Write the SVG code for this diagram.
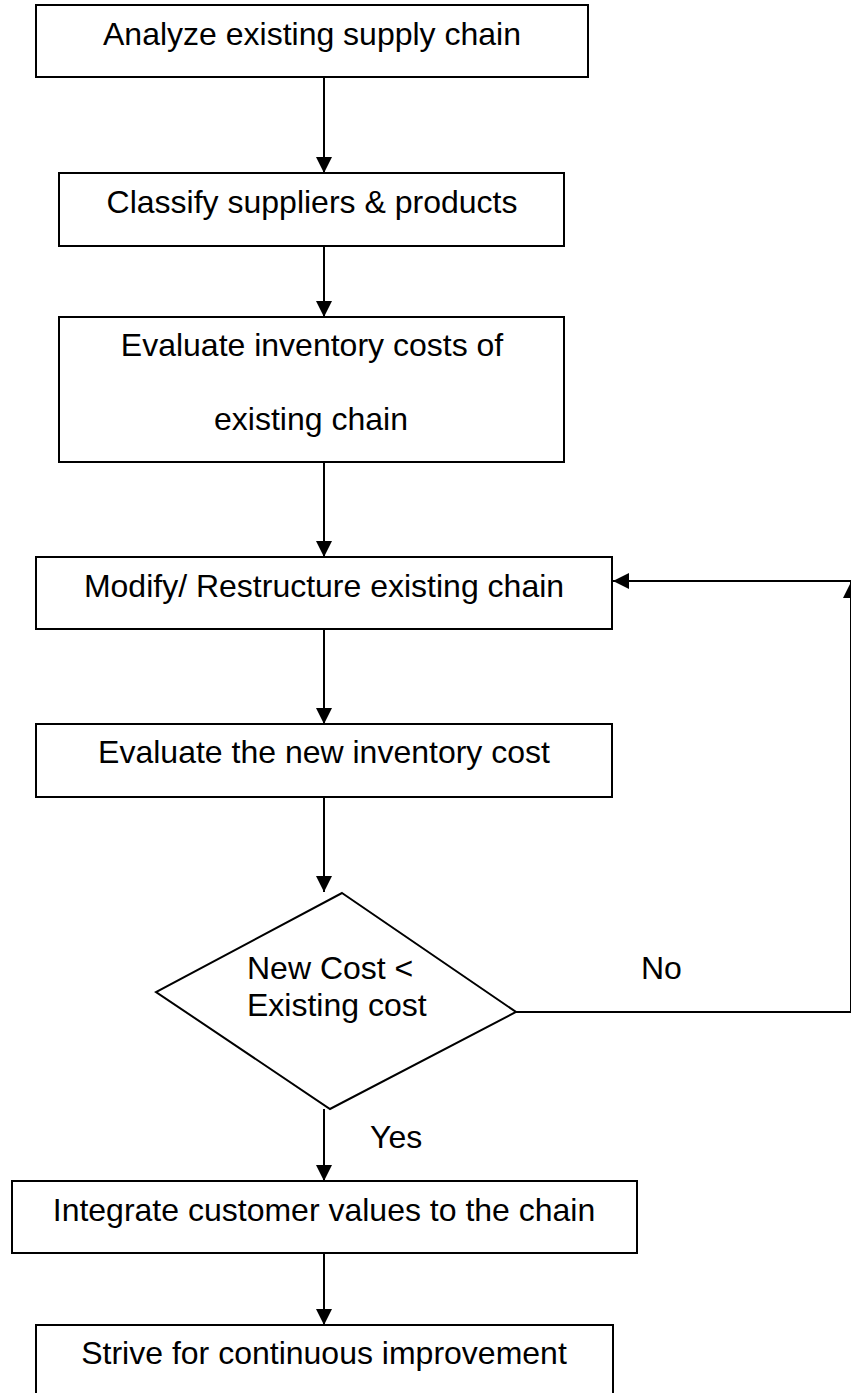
<svg xmlns="http://www.w3.org/2000/svg" width="851" height="1393" viewBox="0 0 851 1393">
<style>
  .box { fill: #ffffff; stroke: #000000; stroke-width: 2; }
  .lbl { font-family: "Liberation Sans", Arial, sans-serif; font-size: 32px; fill: #000000; }
  .mid { text-anchor: middle; }
  .conn { fill: none; stroke: #000000; stroke-width: 2; }
</style>
<defs>
  <marker id="arrow" viewBox="0 0 16 16" refX="16" refY="8" markerWidth="16" markerHeight="16" markerUnits="userSpaceOnUse" orient="auto">
    <path d="M0,0 L16,8 L0,16 Z" fill="#000000"/>
  </marker>
</defs>
<rect width="851" height="1393" fill="#ffffff"/>

<g id="connectors">
  <line class="conn" x1="324" y1="77" x2="324" y2="173" marker-end="url(#arrow)"/>
  <line class="conn" x1="324" y1="246" x2="324" y2="317" marker-end="url(#arrow)"/>
  <line class="conn" x1="324" y1="462" x2="324" y2="557" marker-end="url(#arrow)"/>
  <line class="conn" x1="324" y1="629" x2="324" y2="724" marker-end="url(#arrow)"/>
  <line class="conn" x1="324" y1="797" x2="324" y2="892" marker-end="url(#arrow)"/>
  <line class="conn" x1="324" y1="1109" x2="324" y2="1181" marker-end="url(#arrow)"/>
  <line class="conn" x1="324" y1="1253" x2="324" y2="1325" marker-end="url(#arrow)"/>
  <polyline class="conn" points="516,1012 851,1012 851,582" marker-end="url(#arrow)"/>
  <line class="conn" x1="851" y1="581" x2="613" y2="581" marker-end="url(#arrow)"/>
  <text class="lbl" x="641" y="979">No</text>
  <text class="lbl" x="370" y="1148">Yes</text>
</g>

<g id="n1">
  <rect class="box" x="36" y="5" width="552" height="72"/>
  <text class="lbl mid" x="312" y="45">Analyze existing supply chain</text>
</g>
<g id="n2">
  <rect class="box" x="59" y="173" width="505" height="73"/>
  <text class="lbl mid" x="312" y="213">Classify suppliers &amp; products</text>
</g>
<g id="n3">
  <rect class="box" x="59" y="317" width="505" height="145"/>
  <text class="lbl mid" x="312" y="356">Evaluate inventory costs of</text>
  <text class="lbl mid" x="311" y="430">existing chain</text>
</g>
<g id="n4">
  <rect class="box" x="36" y="557" width="576" height="72"/>
  <text class="lbl mid" x="324" y="597">Modify/ Restructure existing chain</text>
</g>
<g id="n5">
  <rect class="box" x="36" y="724" width="576" height="73"/>
  <text class="lbl mid" x="324" y="763">Evaluate the new inventory cost</text>
</g>
<g id="n6">
  <polygon class="box" points="342,893 516,1012 330,1109 156,992"/>
  <text class="lbl" x="247" y="979">New Cost &lt;</text>
  <text class="lbl" x="247" y="1016">Existing cost</text>
</g>
<g id="n7">
  <rect class="box" x="12" y="1181" width="625" height="72"/>
  <text class="lbl mid" x="324" y="1221">Integrate customer values to the chain</text>
</g>
<g id="n8">
  <rect class="box" x="36" y="1325" width="577" height="90"/>
  <text class="lbl mid" x="324" y="1364">Strive for continuous improvement</text>
</g>
</svg>
